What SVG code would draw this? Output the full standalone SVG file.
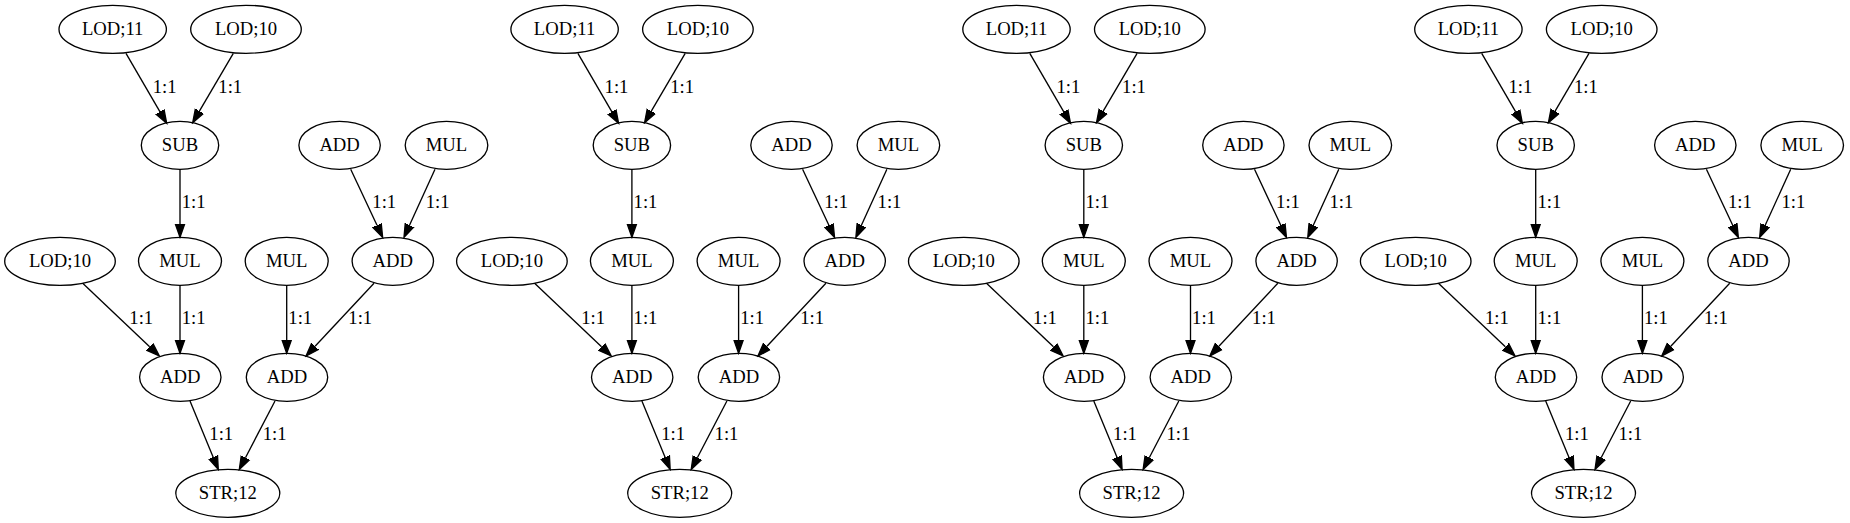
<svg xmlns="http://www.w3.org/2000/svg" width="1850" height="523" viewBox="0 0 1850 523" font-family="Liberation Serif, Times New Roman, Times, serif" font-size="18.67">
<style>
ellipse{fill:none;stroke:#000;stroke-width:1.33}
text{font-family:'Liberation Serif','Times New Roman',Times,serif;font-size:18.67px;fill:#000}
.n text{text-anchor:middle}
.e line{stroke:#000;stroke-width:1.33;marker-end:url(#ah)}
</style>
<defs>
<marker id="ah" markerUnits="userSpaceOnUse" viewBox="0 -6 15 12" refX="0" refY="0" markerWidth="15" markerHeight="12" orient="auto">
<path d="M0,-4.67 L13.3,0 L0,4.67 Z" fill="#000" stroke="#000" stroke-width="1.33"/>
</marker>
</defs>
<rect width="1850" height="523" fill="#fff"/>
<g id="c1" transform="translate(0,0)">
<g id="c1-edges" class="e">
<line x1="126" y1="53.3" x2="160" y2="111.8"/><text x="152.7" y="92.7">1:1</text>
<line x1="233.3" y1="53.3" x2="199.4" y2="111.2"/><text x="218.3" y="92.7">1:1</text>
<line x1="180" y1="169.3" x2="180" y2="224"/><text x="181.7" y="208.3">1:1</text>
<line x1="350.7" y1="169.3" x2="377" y2="225.3"/><text x="372.3" y="208.3">1:1</text>
<line x1="435" y1="169.3" x2="409.5" y2="225.2"/><text x="425.7" y="208.3">1:1</text>
<line x1="82.7" y1="283.3" x2="149.65" y2="346.8"/><text x="129.3" y="324">1:1</text>
<line x1="180" y1="285.3" x2="180" y2="340"/><text x="181.7" y="324">1:1</text>
<line x1="286.7" y1="285.3" x2="286.7" y2="340"/><text x="288.3" y="324">1:1</text>
<line x1="374" y1="283.3" x2="315.1" y2="346.3"/><text x="348.3" y="324">1:1</text>
<line x1="190" y1="401" x2="213.2" y2="457.2"/><text x="209.3" y="440">1:1</text>
<line x1="275" y1="401" x2="245.45" y2="457.7"/><text x="262.7" y="440">1:1</text>
</g>
<g id="c1-n1" class="n"><ellipse cx="112.7" cy="29.3" rx="53.7" ry="24"/><text x="112.7" y="35">LOD;11</text></g>
<g id="c1-n2" class="n"><ellipse cx="246" cy="29.3" rx="55.3" ry="24"/><text x="246" y="35">LOD;10</text></g>
<g id="c1-n3" class="n"><ellipse cx="180" cy="145.3" rx="38.7" ry="24"/><text x="180" y="151">SUB</text></g>
<g id="c1-n4" class="n"><ellipse cx="339.6" cy="145.3" rx="40.7" ry="24"/><text x="339.6" y="151">ADD</text></g>
<g id="c1-n5" class="n"><ellipse cx="446.5" cy="145.3" rx="41.3" ry="24"/><text x="446.5" y="151">MUL</text></g>
<g id="c1-n6" class="n"><ellipse cx="60" cy="261.3" rx="55.3" ry="24"/><text x="60" y="267">LOD;10</text></g>
<g id="c1-n7" class="n"><ellipse cx="180" cy="261.3" rx="41.5" ry="24"/><text x="180" y="267">MUL</text></g>
<g id="c1-n8" class="n"><ellipse cx="286.7" cy="261.3" rx="41.5" ry="24"/><text x="286.7" y="267">MUL</text></g>
<g id="c1-n9" class="n"><ellipse cx="392.8" cy="261.3" rx="40.7" ry="24"/><text x="392.8" y="267">ADD</text></g>
<g id="c1-n10" class="n"><ellipse cx="180.3" cy="377.3" rx="40.7" ry="24"/><text x="180.3" y="383">ADD</text></g>
<g id="c1-n11" class="n"><ellipse cx="287" cy="377.3" rx="40.7" ry="24"/><text x="287" y="383">ADD</text></g>
<g id="c1-n12" class="n"><ellipse cx="227.8" cy="493.3" rx="52" ry="24"/><text x="227.8" y="499">STR;12</text></g>
</g>
<g id="c2" transform="translate(451.9,0)">
<g id="c2-edges" class="e">
<line x1="126" y1="53.3" x2="160" y2="111.8"/><text x="152.7" y="92.7">1:1</text>
<line x1="233.3" y1="53.3" x2="199.4" y2="111.2"/><text x="218.3" y="92.7">1:1</text>
<line x1="180" y1="169.3" x2="180" y2="224"/><text x="181.7" y="208.3">1:1</text>
<line x1="350.7" y1="169.3" x2="377" y2="225.3"/><text x="372.3" y="208.3">1:1</text>
<line x1="435" y1="169.3" x2="409.5" y2="225.2"/><text x="425.7" y="208.3">1:1</text>
<line x1="82.7" y1="283.3" x2="149.65" y2="346.8"/><text x="129.3" y="324">1:1</text>
<line x1="180" y1="285.3" x2="180" y2="340"/><text x="181.7" y="324">1:1</text>
<line x1="286.7" y1="285.3" x2="286.7" y2="340"/><text x="288.3" y="324">1:1</text>
<line x1="374" y1="283.3" x2="315.1" y2="346.3"/><text x="348.3" y="324">1:1</text>
<line x1="190" y1="401" x2="213.2" y2="457.2"/><text x="209.3" y="440">1:1</text>
<line x1="275" y1="401" x2="245.45" y2="457.7"/><text x="262.7" y="440">1:1</text>
</g>
<g id="c2-n1" class="n"><ellipse cx="112.7" cy="29.3" rx="53.7" ry="24"/><text x="112.7" y="35">LOD;11</text></g>
<g id="c2-n2" class="n"><ellipse cx="246" cy="29.3" rx="55.3" ry="24"/><text x="246" y="35">LOD;10</text></g>
<g id="c2-n3" class="n"><ellipse cx="180" cy="145.3" rx="38.7" ry="24"/><text x="180" y="151">SUB</text></g>
<g id="c2-n4" class="n"><ellipse cx="339.6" cy="145.3" rx="40.7" ry="24"/><text x="339.6" y="151">ADD</text></g>
<g id="c2-n5" class="n"><ellipse cx="446.5" cy="145.3" rx="41.3" ry="24"/><text x="446.5" y="151">MUL</text></g>
<g id="c2-n6" class="n"><ellipse cx="60" cy="261.3" rx="55.3" ry="24"/><text x="60" y="267">LOD;10</text></g>
<g id="c2-n7" class="n"><ellipse cx="180" cy="261.3" rx="41.5" ry="24"/><text x="180" y="267">MUL</text></g>
<g id="c2-n8" class="n"><ellipse cx="286.7" cy="261.3" rx="41.5" ry="24"/><text x="286.7" y="267">MUL</text></g>
<g id="c2-n9" class="n"><ellipse cx="392.8" cy="261.3" rx="40.7" ry="24"/><text x="392.8" y="267">ADD</text></g>
<g id="c2-n10" class="n"><ellipse cx="180.3" cy="377.3" rx="40.7" ry="24"/><text x="180.3" y="383">ADD</text></g>
<g id="c2-n11" class="n"><ellipse cx="287" cy="377.3" rx="40.7" ry="24"/><text x="287" y="383">ADD</text></g>
<g id="c2-n12" class="n"><ellipse cx="227.8" cy="493.3" rx="52" ry="24"/><text x="227.8" y="499">STR;12</text></g>
</g>
<g id="c3" transform="translate(903.8,0)">
<g id="c3-edges" class="e">
<line x1="126" y1="53.3" x2="160" y2="111.8"/><text x="152.7" y="92.7">1:1</text>
<line x1="233.3" y1="53.3" x2="199.4" y2="111.2"/><text x="218.3" y="92.7">1:1</text>
<line x1="180" y1="169.3" x2="180" y2="224"/><text x="181.7" y="208.3">1:1</text>
<line x1="350.7" y1="169.3" x2="377" y2="225.3"/><text x="372.3" y="208.3">1:1</text>
<line x1="435" y1="169.3" x2="409.5" y2="225.2"/><text x="425.7" y="208.3">1:1</text>
<line x1="82.7" y1="283.3" x2="149.65" y2="346.8"/><text x="129.3" y="324">1:1</text>
<line x1="180" y1="285.3" x2="180" y2="340"/><text x="181.7" y="324">1:1</text>
<line x1="286.7" y1="285.3" x2="286.7" y2="340"/><text x="288.3" y="324">1:1</text>
<line x1="374" y1="283.3" x2="315.1" y2="346.3"/><text x="348.3" y="324">1:1</text>
<line x1="190" y1="401" x2="213.2" y2="457.2"/><text x="209.3" y="440">1:1</text>
<line x1="275" y1="401" x2="245.45" y2="457.7"/><text x="262.7" y="440">1:1</text>
</g>
<g id="c3-n1" class="n"><ellipse cx="112.7" cy="29.3" rx="53.7" ry="24"/><text x="112.7" y="35">LOD;11</text></g>
<g id="c3-n2" class="n"><ellipse cx="246" cy="29.3" rx="55.3" ry="24"/><text x="246" y="35">LOD;10</text></g>
<g id="c3-n3" class="n"><ellipse cx="180" cy="145.3" rx="38.7" ry="24"/><text x="180" y="151">SUB</text></g>
<g id="c3-n4" class="n"><ellipse cx="339.6" cy="145.3" rx="40.7" ry="24"/><text x="339.6" y="151">ADD</text></g>
<g id="c3-n5" class="n"><ellipse cx="446.5" cy="145.3" rx="41.3" ry="24"/><text x="446.5" y="151">MUL</text></g>
<g id="c3-n6" class="n"><ellipse cx="60" cy="261.3" rx="55.3" ry="24"/><text x="60" y="267">LOD;10</text></g>
<g id="c3-n7" class="n"><ellipse cx="180" cy="261.3" rx="41.5" ry="24"/><text x="180" y="267">MUL</text></g>
<g id="c3-n8" class="n"><ellipse cx="286.7" cy="261.3" rx="41.5" ry="24"/><text x="286.7" y="267">MUL</text></g>
<g id="c3-n9" class="n"><ellipse cx="392.8" cy="261.3" rx="40.7" ry="24"/><text x="392.8" y="267">ADD</text></g>
<g id="c3-n10" class="n"><ellipse cx="180.3" cy="377.3" rx="40.7" ry="24"/><text x="180.3" y="383">ADD</text></g>
<g id="c3-n11" class="n"><ellipse cx="287" cy="377.3" rx="40.7" ry="24"/><text x="287" y="383">ADD</text></g>
<g id="c3-n12" class="n"><ellipse cx="227.8" cy="493.3" rx="52" ry="24"/><text x="227.8" y="499">STR;12</text></g>
</g>
<g id="c4" transform="translate(1355.7,0)">
<g id="c4-edges" class="e">
<line x1="126" y1="53.3" x2="160" y2="111.8"/><text x="152.7" y="92.7">1:1</text>
<line x1="233.3" y1="53.3" x2="199.4" y2="111.2"/><text x="218.3" y="92.7">1:1</text>
<line x1="180" y1="169.3" x2="180" y2="224"/><text x="181.7" y="208.3">1:1</text>
<line x1="350.7" y1="169.3" x2="377" y2="225.3"/><text x="372.3" y="208.3">1:1</text>
<line x1="435" y1="169.3" x2="409.5" y2="225.2"/><text x="425.7" y="208.3">1:1</text>
<line x1="82.7" y1="283.3" x2="149.65" y2="346.8"/><text x="129.3" y="324">1:1</text>
<line x1="180" y1="285.3" x2="180" y2="340"/><text x="181.7" y="324">1:1</text>
<line x1="286.7" y1="285.3" x2="286.7" y2="340"/><text x="288.3" y="324">1:1</text>
<line x1="374" y1="283.3" x2="315.1" y2="346.3"/><text x="348.3" y="324">1:1</text>
<line x1="190" y1="401" x2="213.2" y2="457.2"/><text x="209.3" y="440">1:1</text>
<line x1="275" y1="401" x2="245.45" y2="457.7"/><text x="262.7" y="440">1:1</text>
</g>
<g id="c4-n1" class="n"><ellipse cx="112.7" cy="29.3" rx="53.7" ry="24"/><text x="112.7" y="35">LOD;11</text></g>
<g id="c4-n2" class="n"><ellipse cx="246" cy="29.3" rx="55.3" ry="24"/><text x="246" y="35">LOD;10</text></g>
<g id="c4-n3" class="n"><ellipse cx="180" cy="145.3" rx="38.7" ry="24"/><text x="180" y="151">SUB</text></g>
<g id="c4-n4" class="n"><ellipse cx="339.6" cy="145.3" rx="40.7" ry="24"/><text x="339.6" y="151">ADD</text></g>
<g id="c4-n5" class="n"><ellipse cx="446.5" cy="145.3" rx="41.3" ry="24"/><text x="446.5" y="151">MUL</text></g>
<g id="c4-n6" class="n"><ellipse cx="60" cy="261.3" rx="55.3" ry="24"/><text x="60" y="267">LOD;10</text></g>
<g id="c4-n7" class="n"><ellipse cx="180" cy="261.3" rx="41.5" ry="24"/><text x="180" y="267">MUL</text></g>
<g id="c4-n8" class="n"><ellipse cx="286.7" cy="261.3" rx="41.5" ry="24"/><text x="286.7" y="267">MUL</text></g>
<g id="c4-n9" class="n"><ellipse cx="392.8" cy="261.3" rx="40.7" ry="24"/><text x="392.8" y="267">ADD</text></g>
<g id="c4-n10" class="n"><ellipse cx="180.3" cy="377.3" rx="40.7" ry="24"/><text x="180.3" y="383">ADD</text></g>
<g id="c4-n11" class="n"><ellipse cx="287" cy="377.3" rx="40.7" ry="24"/><text x="287" y="383">ADD</text></g>
<g id="c4-n12" class="n"><ellipse cx="227.8" cy="493.3" rx="52" ry="24"/><text x="227.8" y="499">STR;12</text></g>
</g>
</svg>
